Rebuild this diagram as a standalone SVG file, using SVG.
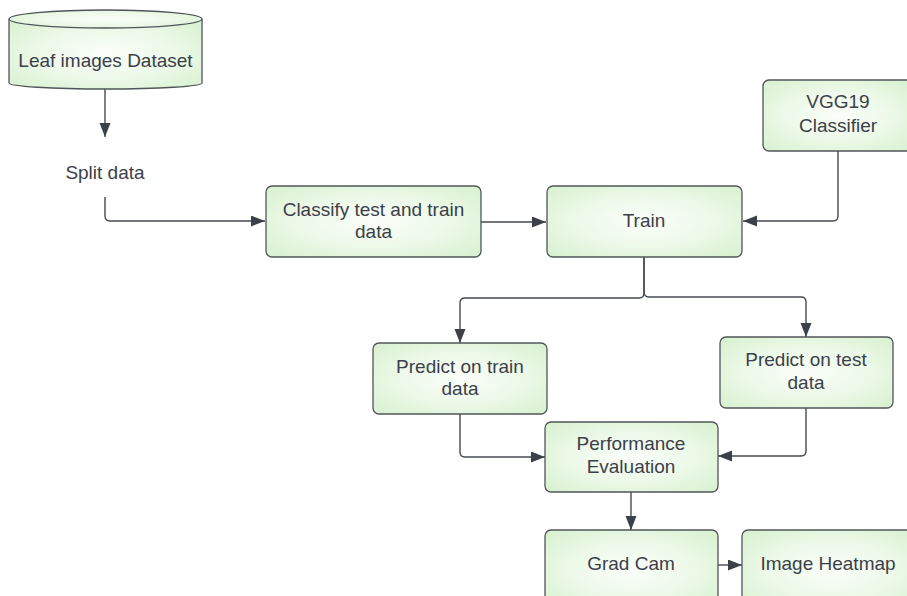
<svg xmlns="http://www.w3.org/2000/svg" width="907" height="596" viewBox="0 0 907 596">
  <defs>
    <radialGradient id="boxFill" cx="50%" cy="50%" r="65%">
      <stop offset="0" stop-color="#fbfefa"/>
      <stop offset="0.55" stop-color="#ecf9e8"/>
      <stop offset="1" stop-color="#daf2d2"/>
    </radialGradient>
    <marker id="arrow" markerUnits="userSpaceOnUse" markerWidth="15" markerHeight="12" refX="14" refY="5.5" orient="auto">
      <path d="M0,0 L14,5.5 L0,11 Z" fill="#3b4049"/>
    </marker>
    <style>
      .box { fill: url(#boxFill); stroke: #50555c; stroke-width: 1.3; }
      .lbl { font-family: "Liberation Sans", Arial, sans-serif; font-size: 19px; fill: #3b4049; text-anchor: middle; }
      .conn { fill: none; stroke: #454a52; stroke-width: 1.4; }
    </style>
  </defs>

  <rect width="907" height="596" fill="#ffffff"/>

  <!-- connectors -->
  <g id="connectors">
    <path class="conn" d="M105,89 V137" marker-end="url(#arrow)"/>
    <path class="conn" d="M105,197 V216 Q105,221 110,221 H265" marker-end="url(#arrow)"/>
    <path class="conn" d="M481,222 H546" marker-end="url(#arrow)"/>
    <path class="conn" d="M838,151 V216 Q838,221 833,221 H743" marker-end="url(#arrow)"/>
    <path class="conn" d="M644,257 V293 Q644,298 639,298 H465 Q460,298 460,303 V343" marker-end="url(#arrow)"/>
    <path class="conn" d="M644,257 V292 Q644,297 649,297 H801 Q806,297 806,302 V337" marker-end="url(#arrow)"/>
    <path class="conn" d="M460,414 V452 Q460,457 465,457 H545" marker-end="url(#arrow)"/>
    <path class="conn" d="M806,408 V451 Q806,456 801,456 H718" marker-end="url(#arrow)"/>
    <path class="conn" d="M631,492 V530" marker-end="url(#arrow)"/>
    <path class="conn" d="M718,565 H742" marker-end="url(#arrow)"/>
  </g>

  <!-- dataset store -->
  <g id="dataset">
    <path class="box" d="M9,19 V83 A96.5,6 0 0 0 202,83 V19"/>
    <ellipse class="box" cx="105.5" cy="19" rx="96.5" ry="9"/>
    <text class="lbl" x="105.5" y="67">Leaf images Dataset</text>
  </g>

  <g id="split">
    <text class="lbl" x="105" y="179">Split data</text>
  </g>

  <g id="classify">
    <rect class="box" x="266" y="186" width="215" height="71" rx="6"/>
    <text class="lbl" x="373.5" y="216">Classify test and train</text>
    <text class="lbl" x="373.5" y="238">data</text>
  </g>

  <g id="train">
    <rect class="box" x="547" y="186" width="195" height="71" rx="6"/>
    <text class="lbl" x="644" y="227">Train</text>
  </g>

  <g id="vgg19">
    <rect class="box" x="763" y="80" width="150" height="71" rx="6"/>
    <text class="lbl" x="838" y="108">VGG19</text>
    <text class="lbl" x="838" y="132">Classifier</text>
  </g>

  <g id="predict-train">
    <rect class="box" x="373" y="343" width="174" height="71" rx="6"/>
    <text class="lbl" x="460" y="373">Predict on train</text>
    <text class="lbl" x="460" y="395">data</text>
  </g>

  <g id="predict-test">
    <rect class="box" x="720" y="337" width="173" height="71" rx="6"/>
    <text class="lbl" x="806" y="366">Predict on test</text>
    <text class="lbl" x="806" y="389">data</text>
  </g>

  <g id="performance">
    <rect class="box" x="545" y="422" width="173" height="70" rx="6"/>
    <text class="lbl" x="631" y="450">Performance</text>
    <text class="lbl" x="631" y="473">Evaluation</text>
  </g>

  <g id="gradcam">
    <rect class="box" x="545" y="530" width="173" height="80" rx="6"/>
    <text class="lbl" x="631" y="570">Grad Cam</text>
  </g>

  <g id="heatmap">
    <rect class="box" x="742" y="530" width="180" height="80" rx="6"/>
    <text class="lbl" x="828" y="570">Image Heatmap</text>
  </g>
</svg>
